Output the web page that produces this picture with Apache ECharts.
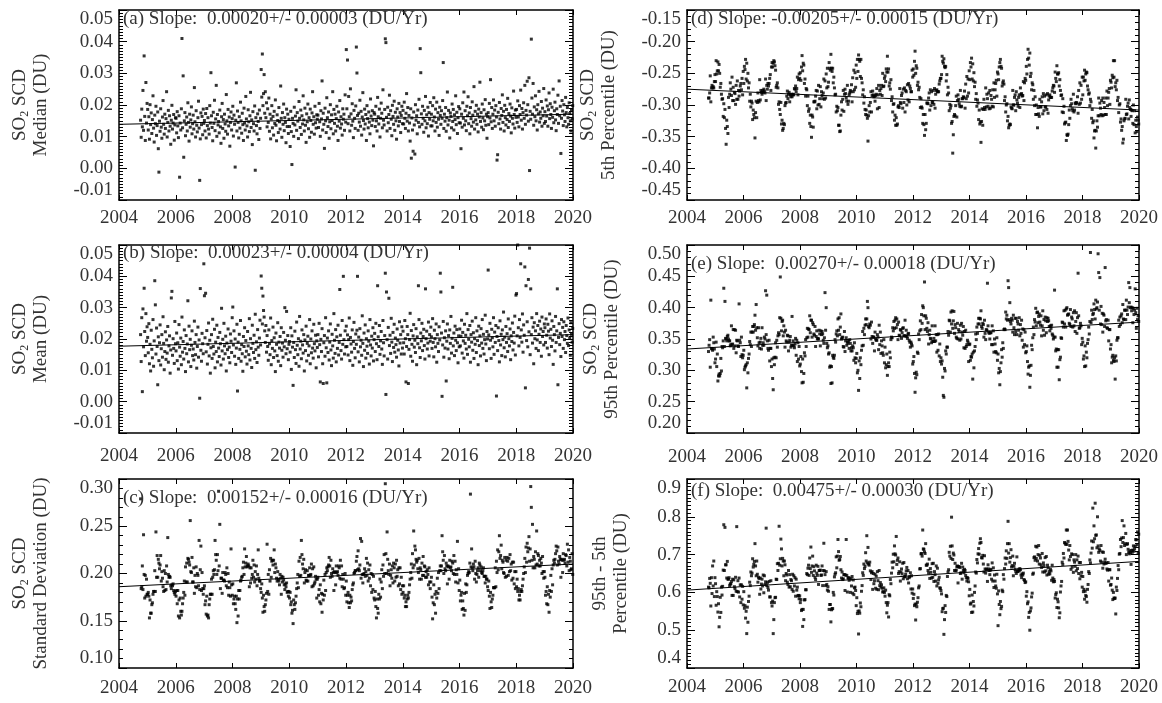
<!DOCTYPE html>
<html>
<head>
<meta charset="utf-8">
<script src="https://cdn.jsdelivr.net/npm/echarts@6/dist/echarts.min.js"></script>
<style>
  html, body { margin: 0; padding: 0; background: #fff; }
  #chart { width: 1162px; height: 703px; }
</style>
</head>
<body>
<div id="chart"></div>
<script>
// one value per slot, 48 slots a year; row 0 = 2004 (Oct-Dec only), rows 1..15 = 2005..2019
// median / mean in 0.0001 DU, the other four in 0.001 DU
const medianVals = [
  [152, 98, 187, 131, 246, 120, 355, 164, 88, 271, 143, 205],
  [186, 121, 163, 92, 201, 138, 175, 110, 154, 229, 127, 83, 168, 141, 196, 104, 135, 178, 62, -12, 149, 117, 188, 130, 95, 162, 214, 139, 108, 171, 126, 157, 242, 99, 145, 183, 118, 166, 133, 76, 152, 199, 124, 143, 170, 89, 137, 160],
  [158, 112, 179, 134, 97, 166, -28, 143, 121, 188, 410, 128, 292, 35, 150, 176, 103, 139, 162, 118, 207, 145, 86, 171, 130, 153, 194, 109, 141, 168, 124, 255, 147, 99, 182, 136, 115, 160, 212, 127, -38, 93, 175, 138, 164, 106, 187, 142],
  [151, 118, 173, 96, 189, 135, 160, 124, 108, 198, 143, 302, 166, 129, 87, 177, 142, 215, 119, 156, 262, 101, 170, 137, 148, 112, 184, 131, 79, 163, 205, 126, 154, 95, 171, 140, 117, 233, 150, 108, 186, 134, 162, 70, 145, 178, 121, 157],
  [196, 102, 168, 139, 4, 152, 270, 118, 181, 145, 96, 163, 127, 209, 150, 111, 174, 138, 88, 190, 143, 121, 227, 156, 134, 99, 185, 147, 116, 166, 240, 129, 153, 75, 179, 141, 118, 197, -6, 160, 135, 109, 172, 148, 91, 184, 126, 158],
  [312, 225, 361, 198, 236, 296, 174, 242, 160, 207, 131, 188, 145, 222, 117, 171, 93, 156, 198, 128, 164, 105, 180, 142, 216, 136, 87, 169, 151, 113, 192, 147, 124, 260, 158, 98, 176, 139, 203, 119, 160, 145, 81, 187, 132, 171, 110, 155],
  [132, 69, 180, 116, 12, 158, 142, 101, 193, 137, 165, 248, 120, 176, 149, 94, 211, 158, 129, 184, 107, 166, 140, 229, 153, 118, 190, 136, 82, 172, 147, 203, 125, 160, 98, 187, 151, 114, 175, 242, 139, 163, 108, 196, 144, 127, 169, 155],
  [168, 129, 205, 147, 101, 182, 156, 276, 121, 174, 139, 63, 190, 150, 113, 223, 160, 132, 178, 95, 147, 201, 125, 169, 151, 242, 109, 186, 142, 171, 118, 157, 196, 133, 88, 178, 149, 214, 127, 163, 140, 105, 188, 155, 171, 120, 232, 146],
  [375, 188, 342, 141, 227, 163, 118, 251, 172, 136, 204, 149, 97, 183, 158, 126, 197, 383, 301, 167, 120, 174, 146, 215, 133, 180, 105, 162, 239, 151, 124, 187, 140, 170, 88, 198, 157, 128, 178, 146, 109, 219, 165, 135, 182, 152, 71, 176],
  [171, 132, 196, 150, 118, 224, 163, 140, 187, 99, 158, 206, 174, 128, 248, 152, 137, 186, 409, 397, 161, 118, 193, 144, 170, 231, 126, 182, 155, 103, 199, 164, 139, 212, 120, 177, 150, 92, 188, 162, 134, 205, 148, 176, 113, 167, 196, 141],
  [183, 140, 209, 158, 126, 174, 236, 149, 192, 118, 167, 143, 86, 188, 32, 159, 121, 54, 178, 137, 45, 201, 152, 166, 109, 184, 145, 218, 131, 378, 302, 172, 139, 196, 158, 114, 183, 150, 227, 128, 169, 141, 193, 102, 176, 155, 208, 134],
  [171, 134, 198, 150, 223, 162, 118, 187, 145, 209, 130, 176, 155, 104, 193, 167, 139, 182, 158, 214, 334, 126, 171, 149, 192, 117, 160, 241, 137, 183, 152, 96, 175, 164, 128, 203, 148, 186, 121, 169, 154, 229, 138, 177, 110, 160, 195, 144],
  [188, 143, 62, 171, 130, 207, 158, 241, 137, 182, 150, 119, 196, 166, 226, 141, 175, 109, 192, 157, 133, 210, 168, 146, 258, 124, 180, 153, 199, 139, 171, 115, 187, 162, 272, 148, 176, 130, 203, 159, 122, 185, 150, 217, 136, 171, 95, 163],
  [176, 138, 205, 159, 280, 147, 192, 126, 171, 216, 150, 184, 133, 198, 162, 26, 43, 177, 141, 208, 156, 124, 189, 167, 232, 145, 180, 118, 199, 160, 137, 186, 154, 221, 129, 173, 148, 203, 165, 112, 191, 158, 140, 244, 170, 127, 184, 161],
  [186, 145, 213, 162, 131, 198, 170, 247, 152, 189, 124, 176, 207, 158, 262, 139, 183, 168, 275, 201, 149, 286, -7, 180, 155, 408, 222, 171, 268, 136, 194, 163, 229, 150, 185, 121, 201, 172, 243, 146, 178, 158, 211, 133, 190, 166, 252, 142],
  [179, 148, 216, 165, 197, 133, 185, 238, 157, 204, 170, 126, 193, 161, 250, 144, 182, 209, 153, 119, 188, 170, 231, 142, 276, 166, 196, 47, 158, 214, 181, 135, 201, 169, 148, 224, 176, 131, 192, 160, 139, 207, 173, 150, 118, 184, 156, 198]
];

const meanVals = [
  [214, 128, 268, 32, 296, 175, 362, 224, 147, 281, 193, 239],
  [205, 156, 249, 121, 183, 98, 228, 167, 140, 262, 113, 194, 386, 309, 152, 235, 176, 54, 207, 131, 188, 245, 117, 169, 214, 142, 271, 186, 102, 160, 223, 135, 197, 155, 240, 126, 178, 210, 91, 165, 331, 352, 148, 201, 170, 122, 256, 185],
  [162, 219, 131, 188, 104, 246, 174, 145, 203, 118, 270, 158, 192, 136, 229, 170, 96, 211, 153, 184, 322, 127, 241, 166, 199, 112, 180, 226, 147, 168, 133, 257, 189, 150, 214, 107, 176, 238, 142, 197, 11, 361, 164, 129, 218, 185, 153, 440],
  [338, 204, 346, 159, 227, 120, 183, 251, 146, 196, 91, 172, 214, 138, 263, 176, 152, 231, 108, 190, 160, 244, 127, 205, 171, 144, 221, 185, 117, 298, 162, 199, 136, 250, 178, 153, 209, 98, 187, 166, 232, 141, 174, 124, 216, 193, 157, 268],
  [302, 181, 226, 145, 200, 119, 171, 247, 34, 190, 138, 215, 167, 259, 129, 182, 153, 97, 208, 176, 236, 143, 195, 161, 120, 224, 178, 150, 265, 133, 201, 170, 109, 244, 186, 157, 212, 138, 279, 166, 191, 125, 230, 174, 148, 203, 260, 181],
  [401, 362, 248, 337, 291, 270, 226, 189, 243, 158, 211, 176, 132, 229, 185, 150, 267, 118, 195, 170, 238, 141, 204, 162, 96, 219, 183, 147, 252, 129, 190, 171, 208, 115, 236, 164, 187, 142, 221, 175, 300, 196, 153, 288, 169, 211, 134, 183],
  [192, 158, 236, 103, 210, 174, 52, 189, 141, 225, 166, 122, 254, 180, 150, 201, 113, 272, 168, 193, 137, 229, 181, 155, 214, 98, 197, 163, 241, 130, 186, 209, 148, 178, 262, 121, 200, 156, 226, 171, 139, 247, 185, 162, 212, 108, 194, 173],
  [214, 143, 250, 182, 63, 199, 160, 233, 121, 58, 188, 211, 145, 268, 172, 60, 203, 157, 226, 133, 190, 248, 165, 115, 215, 178, 139, 281, 196, 154, 230, 127, 207, 170, 244, 149, 189, 358, 212, 163, 136, 259, 183, 400, 198, 152, 226, 175],
  [241, 176, 213, 149, 198, 267, 131, 205, 184, 158, 229, 116, 192, 253, 170, 140, 216, 183, 228, 400, 159, 206, 127, 233, 175, 196, 148, 274, 186, 112, 219, 164, 245, 139, 201, 177, 154, 226, 193, 120, 262, 181, 146, 209, 171, 236, 130, 198],
  [218, 160, 250, 185, 134, 370, 207, 176, 243, 151, 194, 224, 168, 119, 259, 188, 146, 211, 410, 23, 350, 198, 136, 237, 330, 179, 212, 154, 266, 190, 128, 221, 173, 247, 158, 203, 182, 142, 232, 196, 165, 114, 255, 187, 214, 152, 239, 171],
  [225, 188, 152, 259, 201, 63, 176, 240, 214, 58, 167, 198, 282, 145, 227, 183, 129, 210, 246, 174, 196, 157, 233, 118, 207, 185, 370, 262, 172, 141, 219, 194, 250, 163, 208, 231, 179, 136, 360, 201, 225, 168, 187, 254, 146, 214, 193, 238],
  [207, 170, 265, 189, 143, 228, 201, 175, 248, 126, 214, 186, 160, 239, 197, 410, 350, 219, 17, 181, 256, 142, 204, 171, 226, 66, 193, 248, 168, 211, 137, 229, 186, 272, 155, 202, 365, 178, 219, 147, 241, 196, 163, 230, 188, 124, 210, 175],
  [232, 178, 209, 260, 155, 221, 194, 139, 247, 186, 212, 168, 281, 151, 230, 199, 175, 243, 126, 214, 190, 257, 164, 220, 138, 201, 183, 268, 157, 226, 195, 118, 241, 179, 210, 146, 233, 187, 262, 170, 215, 152, 198, 276, 184, 131, 224, 200],
  [420, 213, 169, 250, 196, 138, 231, 204, 175, 268, 151, 222, 189, 243, 18, 208, 163, 236, 195, 127, 258, 181, 215, 147, 229, 198, 286, 172, 206, 143, 240, 189, 217, 160, 264, 201, 178, 232, 134, 210, 192, 251, 165, 221, 187, 273, 149, 340],
  [345, 210, 500, 236, 178, 262, 205, 440, 229, 190, 280, 158, 245, 212, 430, 44, 370, 195, 255, 175, 390, 223, 490, 150, 360, 214, 268, 187, 238, 121, 252, 201, 226, 170, 281, 197, 243, 163, 215, 257, 189, 232, 145, 270, 208, 224, 181, 248],
  [236, 189, 264, 212, 171, 247, 225, 150, 280, 203, 231, 176, 258, 196, 119, 240, 214, 162, 272, 189, 226, 360, 54, 205, 249, 182, 218, 144, 262, 208, 237, 170, 255, 198, 224, 157, 243, 211, 186, 267, 179, 229, 203, 148, 252, 215, 190, 234]
];

const stdVals = [
  [279, 184, 186, 208, 183, 241, 199, 174, 198, 176, 194, 178],
  [178, 180, 176, 153, 172, 158, 158, 167, 169, 178, 181, 181, 203, 181, 244, 196, 219, 196, 215, 211, 205, 209, 219, 192, 202, 195, 186, 181, 203, 182, 200, 183, 208, 191, 238, 199, 196, 197, 196, 187, 184, 188, 187, 189, 182, 180, 178, 181],
  [176, 182, 168, 182, 155, 172, 153, 174, 160, 156, 160, 168, 174, 180, 192, 177, 207, 191, 211, 191, 216, 215, 212, 209, 256, 202, 201, 217, 191, 191, 206, 179, 198, 186, 207, 185, 200, 198, 187, 235, 183, 204, 229, 182, 201, 184, 178, 184],
  [187, 167, 171, 157, 176, 155, 156, 153, 167, 173, 178, 178, 194, 178, 196, 203, 199, 204, 235, 220, 214, 199, 220, 203, 287, 208, 252, 184, 195, 195, 179, 201, 193, 193, 192, 201, 199, 187, 206, 185, 200, 177, 191, 185, 176, 226, 188, 177],
  [189, 168, 173, 176, 168, 162, 176, 148, 173, 155, 182, 173, 182, 192, 193, 196, 197, 206, 212, 199, 226, 207, 211, 218, 207, 208, 210, 208, 186, 206, 190, 206, 195, 199, 214, 196, 209, 191, 202, 194, 208, 187, 199, 225, 195, 192, 192, 184],
  [180, 189, 174, 159, 177, 165, 160, 167, 172, 179, 231, 181, 199, 178, 204, 192, 216, 196, 213, 214, 209, 214, 225, 201, 210, 206, 195, 192, 202, 194, 192, 188, 199, 195, 178, 197, 191, 196, 193, 188, 183, 189, 186, 190, 180, 181, 176, 181],
  [174, 180, 167, 170, 158, 161, 147, 172, 167, 162, 169, 176, 184, 190, 199, 185, 213, 197, 217, 198, 235, 220, 210, 205, 215, 190, 201, 204, 193, 192, 203, 192, 198, 198, 206, 198, 199, 210, 186, 205, 187, 207, 189, 191, 197, 194, 174, 194],
  [196, 177, 183, 170, 188, 168, 179, 159, 178, 172, 193, 177, 199, 182, 201, 206, 203, 207, 209, 217, 208, 196, 214, 200, 197, 205, 201, 182, 202, 201, 188, 208, 201, 202, 198, 208, 206, 195, 214, 194, 208, 186, 199, 194, 184, 185, 200, 177],
  [192, 170, 177, 180, 169, 164, 177, 169, 175, 171, 183, 188, 190, 200, 201, 203, 203, 213, 218, 204, 224, 205, 203, 209, 237, 195, 234, 199, 190, 199, 200, 205, 197, 202, 216, 198, 211, 192, 204, 195, 209, 187, 200, 180, 199, 183, 197, 174],
  [172, 181, 165, 153, 173, 163, 158, 178, 173, 194, 175, 191, 204, 184, 209, 197, 220, 200, 295, 221, 200, 244, 215, 203, 199, 210, 187, 198, 204, 195, 208, 190, 211, 206, 192, 210, 196, 214, 197, 204, 187, 206, 189, 206, 183, 196, 178, 187],
  [180, 187, 174, 177, 165, 170, 165, 173, 177, 174, 180, 188, 194, 201, 210, 195, 221, 206, 245, 209, 229, 225, 215, 212, 214, 205, 201, 216, 194, 206, 204, 194, 211, 198, 218, 198, 208, 207, 196, 202, 196, 204, 199, 188, 206, 191, 184, 191],
  [196, 175, 152, 169, 188, 167, 178, 158, 181, 174, 195, 179, 201, 184, 203, 208, 203, 208, 240, 223, 214, 200, 219, 205, 203, 211, 208, 189, 208, 207, 194, 214, 206, 207, 203, 213, 211, 200, 219, 199, 213, 191, 204, 199, 234, 190, 205, 182],
  [193, 171, 177, 180, 162, 171, 163, 156, 179, 161, 189, 180, 188, 198, 200, 202, 201, 211, 284, 207, 226, 206, 203, 210, 207, 194, 213, 200, 191, 199, 203, 206, 196, 211, 209, 203, 207, 201, 200, 203, 206, 197, 197, 190, 197, 194, 194, 186],
  [182, 192, 176, 163, 180, 170, 164, 173, 177, 185, 185, 185, 206, 186, 213, 201, 225, 204, 223, 240, 216, 219, 230, 205, 214, 212, 201, 200, 217, 196, 214, 197, 217, 213, 198, 216, 202, 220, 203, 210, 193, 212, 195, 212, 189, 202, 184, 202],
  [186, 194, 181, 184, 172, 177, 172, 181, 183, 181, 187, 194, 200, 207, 216, 201, 228, 212, 232, 223, 227, 239, 213, 226, 292, 270, 214, 252, 206, 218, 215, 206, 223, 209, 245, 210, 221, 219, 208, 214, 208, 216, 211, 200, 218, 202, 195, 202],
  [196, 177, 181, 168, 186, 167, 178, 159, 182, 175, 198, 181, 205, 188, 209, 214, 211, 215, 221, 229, 224, 209, 228, 213, 210, 218, 215, 196, 215, 214, 201, 221, 214, 215, 211, 220, 219, 208, 231, 212, 225, 203, 217, 213, 204, 205, 221, 199]
];

const p5Vals = [
  [-289, -289, -281, -254, -295, -273, -269, -273, -271, -273, -263, -252],
  [-263, -230, -251, -246, -232, -246, -236, -250, -272, -266, -283, -291, -290, -318, -298, -320, -307, -337, -362, -324, -334, -345, -288, -304, -283, -265, -275, -285, -256, -293, -272, -293, -280, -282, -299, -269, -291, -262, -291, -277, -286, -278, -270, -266, -276, -258, -284, -247],
  [-266, -239, -244, -228, -259, -234, -262, -250, -273, -265, -294, -283, -303, -294, -297, -323, -308, -315, -320, -352, -312, -294, -320, -296, -281, -293, -295, -260, -292, -277, -280, -283, -277, -280, -275, -278, -281, -259, -293, -269, -275, -266, -270, -266, -258, -252, -277, -240],
  [-233, -240, -234, -230, -232, -238, -245, -272, -269, -265, -273, -299, -295, -307, -315, -296, -330, -324, -340, -337, -329, -331, -301, -297, -296, -286, -278, -290, -283, -280, -295, -284, -287, -283, -287, -284, -283, -284, -274, -275, -270, -279, -274, -256, -284, -260, -251, -258],
  [-249, -261, -240, -222, -246, -234, -237, -266, -259, -286, -274, -276, -301, -286, -310, -306, -329, -316, -334, -351, -316, -319, -335, -295, -295, -294, -286, -277, -306, -278, -300, -269, -299, -290, -271, -303, -279, -285, -290, -281, -259, -291, -262, -289, -251, -273, -242, -271],
  [-264, -233, -242, -245, -220, -242, -247, -242, -265, -256, -273, -284, -283, -311, -302, -309, -304, -332, -332, -342, -341, -316, -295, -308, -291, -277, -310, -283, -275, -282, -289, -294, -269, -299, -294, -284, -281, -277, -279, -268, -295, -257, -279, -245, -276, -249, -272, -237],
  [-258, -228, -247, -221, -228, -231, -255, -228, -258, -265, -284, -276, -297, -287, -307, -315, -308, -316, -321, -357, -317, -301, -311, -296, -279, -311, -285, -278, -284, -287, -286, -294, -285, -283, -274, -306, -284, -269, -304, -277, -283, -274, -269, -285, -250, -271, -270, -258],
  [-254, -263, -243, -248, -223, -248, -243, -270, -265, -275, -260, -293, -287, -311, -299, -298, -324, -316, -332, -320, -332, -330, -303, -301, -304, -274, -296, -298, -285, -281, -305, -275, -296, -273, -311, -277, -279, -300, -268, -292, -266, -295, -270, -274, -279, -279, -245, -256],
  [-243, -253, -231, -215, -250, -238, -242, -269, -264, -276, -272, -288, -304, -290, -303, -305, -329, -315, -331, -348, -315, -339, -329, -297, -297, -298, -289, -281, -308, -276, -301, -279, -296, -296, -277, -299, -274, -305, -283, -277, -276, -279, -279, -279, -267, -262, -258, -258],
  [-252, -223, -231, -234, -227, -239, -241, -239, -262, -252, -284, -272, -281, -309, -299, -305, -301, -329, -326, -376, -347, -318, -315, -317, -301, -286, -319, -293, -284, -291, -298, -302, -277, -303, -302, -290, -290, -287, -288, -278, -305, -267, -290, -255, -286, -259, -281, -246],
  [-260, -233, -240, -226, -259, -235, -262, -249, -271, -264, -291, -282, -302, -292, -297, -323, -308, -330, -327, -359, -326, -306, -332, -307, -291, -304, -307, -273, -303, -283, -290, -302, -281, -306, -277, -305, -285, -291, -302, -276, -303, -265, -288, -276, -266, -261, -286, -248],
  [-251, -260, -240, -233, -228, -239, -242, -270, -265, -262, -267, -293, -287, -311, -300, -298, -325, -318, -336, -332, -330, -331, -303, -305, -306, -277, -300, -300, -288, -284, -309, -279, -292, -297, -302, -288, -284, -304, -273, -283, -282, -286, -285, -263, -293, -265, -258, -261],
  [-239, -251, -228, -212, -226, -237, -218, -255, -250, -276, -265, -268, -291, -277, -301, -287, -315, -300, -315, -336, -304, -314, -318, -291, -303, -303, -295, -287, -314, -282, -309, -286, -303, -303, -284, -307, -282, -313, -292, -286, -284, -288, -288, -288, -278, -273, -269, -270],
  [-280, -248, -258, -263, -238, -251, -251, -249, -270, -260, -277, -285, -284, -311, -290, -312, -302, -330, -328, -327, -356, -347, -348, -346, -331, -308, -321, -301, -291, -298, -306, -309, -283, -311, -308, -297, -298, -296, -297, -287, -313, -277, -299, -265, -297, -269, -291, -256],
  [-284, -256, -262, -245, -261, -251, -248, -249, -270, -276, -283, -281, -301, -291, -295, -321, -307, -328, -325, -352, -341, -340, -368, -341, -325, -335, -317, -289, -317, -297, -305, -315, -293, -317, -289, -316, -296, -304, -315, -289, -315, -278, -301, -289, -280, -274, -299, -261],
  [-264, -273, -253, -257, -230, -256, -230, -271, -265, -276, -261, -293, -288, -312, -300, -298, -327, -322, -340, -334, -360, -354, -325, -322, -321, -291, -315, -314, -302, -297, -322, -292, -304, -307, -318, -308, -309, -329, -300, -331, -309, -344, -324, -334, -342, -319, -324, -330]
];

const p95Vals = [
  [330, 340, 349, 305, 412, 335, 334, 332, 353, 344, 334, 312],
  [318, 345, 306, 326, 283, 291, 294, 291, 295, 319, 299, 338, 336, 347, 431, 338, 410, 351, 350, 347, 354, 356, 350, 347, 347, 339, 341, 371, 341, 342, 365, 335, 365, 339, 364, 328, 348, 347, 339, 338, 406, 348, 344, 322, 353, 325, 320, 324],
  [332, 301, 305, 307, 309, 272, 312, 296, 319, 326, 346, 341, 361, 338, 361, 370, 361, 370, 373, 388, 364, 405, 368, 352, 339, 368, 344, 335, 345, 351, 334, 368, 340, 344, 340, 353, 350, 427, 357, 420, 347, 335, 332, 348, 315, 335, 335, 306],
  [318, 287, 269, 320, 309, 321, 344, 320, 348, 337, 355, 360, 357, 384, 449, 383, 363, 378, 380, 355, 371, 361, 337, 364, 347, 345, 356, 355, 331, 345, 348, 354, 337, 340, 386, 340, 347, 339, 336, 342, 351, 324, 348, 314, 344, 318, 338, 307],
  [310, 322, 298, 280, 318, 281, 295, 328, 323, 349, 338, 352, 367, 353, 366, 365, 387, 360, 380, 380, 353, 376, 373, 358, 356, 370, 338, 354, 363, 350, 351, 350, 364, 358, 339, 363, 357, 362, 358, 348, 343, 352, 424, 364, 400, 343, 336, 339],
  [326, 328, 305, 307, 279, 306, 280, 324, 321, 319, 324, 349, 345, 358, 363, 355, 382, 364, 384, 357, 369, 390, 350, 352, 353, 338, 337, 362, 330, 347, 352, 340, 345, 343, 347, 335, 349, 343, 331, 336, 331, 339, 336, 316, 344, 320, 312, 319],
  [327, 296, 300, 268, 315, 287, 320, 309, 332, 339, 362, 340, 367, 357, 372, 382, 373, 382, 410, 400, 370, 368, 374, 372, 350, 377, 354, 343, 353, 353, 331, 361, 350, 348, 348, 357, 353, 333, 372, 341, 361, 327, 347, 339, 328, 324, 349, 312],
  [337, 304, 309, 326, 292, 306, 312, 306, 329, 320, 349, 353, 352, 368, 363, 378, 367, 380, 384, 368, 382, 373, 349, 377, 356, 355, 365, 364, 351, 360, 367, 368, 355, 355, 380, 355, 364, 354, 351, 358, 359, 348, 345, 337, 345, 342, 339, 310],
  [314, 322, 295, 265, 288, 297, 293, 329, 327, 358, 349, 363, 379, 365, 389, 375, 403, 400, 387, 441, 365, 387, 383, 367, 362, 376, 342, 357, 364, 351, 350, 344, 371, 346, 346, 351, 346, 371, 347, 357, 329, 357, 332, 358, 323, 342, 314, 320],
  [310, 315, 289, 260, 257, 303, 299, 331, 326, 337, 337, 362, 356, 380, 379, 361, 393, 374, 395, 367, 379, 394, 359, 373, 368, 353, 351, 375, 350, 365, 362, 348, 372, 350, 375, 361, 356, 370, 336, 362, 335, 364, 338, 341, 348, 345, 314, 341],
  [342, 316, 322, 321, 326, 286, 329, 304, 331, 338, 358, 349, 369, 359, 374, 383, 374, 383, 382, 395, 370, 367, 375, 373, 353, 380, 359, 349, 365, 364, 439, 371, 361, 359, 350, 360, 360, 341, 371, 341, 363, 329, 350, 342, 330, 328, 352, 316],
  [326, 296, 303, 277, 298, 312, 333, 321, 344, 335, 365, 366, 365, 393, 382, 388, 380, 443, 432, 381, 408, 378, 374, 383, 380, 361, 388, 368, 357, 383, 362, 383, 357, 378, 374, 364, 384, 355, 373, 359, 380, 348, 366, 337, 365, 341, 361, 328],
  [330, 339, 314, 294, 305, 307, 273, 292, 308, 340, 333, 352, 369, 357, 381, 377, 399, 371, 392, 393, 376, 386, 390, 377, 372, 387, 355, 371, 395, 364, 381, 356, 385, 379, 360, 384, 378, 383, 379, 370, 363, 371, 367, 372, 358, 356, 350, 353],
  [428, 353, 331, 334, 305, 333, 305, 333, 285, 317, 321, 352, 351, 377, 376, 369, 395, 374, 396, 369, 398, 400, 388, 389, 390, 375, 373, 397, 370, 385, 382, 369, 392, 371, 395, 362, 378, 392, 359, 384, 455, 387, 367, 368, 375, 371, 341, 351],
  [345, 318, 323, 306, 339, 307, 329, 320, 343, 349, 369, 358, 378, 488, 376, 396, 381, 389, 391, 406, 397, 382, 412, 398, 400, 409, 486, 456, 396, 448, 374, 402, 373, 391, 361, 390, 388, 370, 464, 379, 381, 368, 367, 380, 347, 365, 365, 334],
  [341, 312, 321, 324, 316, 314, 320, 286, 323, 315, 348, 352, 352, 380, 370, 385, 373, 387, 390, 376, 405, 382, 381, 396, 396, 381, 412, 396, 389, 401, 440, 408, 432, 400, 401, 395, 400, 376, 399, 389, 396, 430, 392, 367, 399, 381, 387, 378]
];

const rangeVals = [
  [614, 612, 637, 624, 564, 639, 597, 670, 617, 683, 589, 639],
  [623, 566, 602, 589, 548, 570, 509, 534, 587, 547, 614, 593, 616, 659, 779, 658, 772, 673, 673, 638, 682, 635, 635, 639, 618, 622, 623, 629, 592, 635, 592, 633, 615, 610, 640, 603, 774, 602, 631, 601, 638, 588, 620, 573, 620, 582, 616, 567],
  [602, 558, 565, 532, 550, 491, 561, 521, 576, 590, 627, 618, 654, 644, 651, 689, 667, 674, 682, 729, 670, 644, 683, 648, 627, 640, 637, 595, 638, 609, 622, 635, 617, 646, 599, 644, 621, 628, 770, 618, 626, 613, 606, 629, 588, 588, 631, 573],
  [564, 577, 491, 528, 573, 586, 587, 635, 634, 676, 658, 677, 775, 672, 689, 741, 715, 670, 690, 683, 644, 683, 673, 631, 650, 646, 627, 621, 658, 614, 647, 615, 634, 631, 608, 648, 603, 644, 617, 639, 590, 635, 606, 614, 591, 592, 583, 591],
  [573, 581, 552, 555, 510, 555, 528, 580, 581, 607, 607, 650, 647, 664, 672, 645, 691, 663, 720, 653, 670, 696, 645, 668, 657, 640, 634, 672, 651, 645, 669, 621, 658, 658, 659, 645, 646, 670, 618, 658, 730, 657, 647, 618, 655, 621, 606, 615],
  [603, 555, 568, 568, 522, 554, 557, 557, 600, 593, 641, 648, 652, 694, 665, 696, 740, 708, 685, 687, 695, 660, 638, 654, 634, 636, 647, 647, 605, 646, 740, 645, 601, 639, 638, 632, 638, 600, 635, 617, 642, 598, 633, 594, 612, 614, 605, 565],
  [586, 544, 550, 490, 551, 545, 572, 562, 603, 618, 652, 645, 675, 663, 669, 705, 683, 750, 678, 719, 675, 672, 680, 657, 634, 652, 655, 608, 650, 623, 631, 648, 611, 643, 608, 655, 631, 607, 658, 618, 626, 614, 620, 611, 601, 602, 612, 600],
  [590, 606, 573, 546, 566, 573, 535, 594, 591, 634, 623, 651, 680, 665, 701, 681, 723, 702, 699, 748, 674, 685, 691, 650, 655, 681, 630, 654, 662, 649, 677, 636, 679, 641, 642, 648, 657, 666, 636, 658, 625, 639, 642, 652, 609, 644, 598, 609],
  [584, 595, 565, 569, 527, 569, 562, 574, 586, 612, 617, 662, 663, 702, 703, 696, 765, 715, 714, 707, 703, 729, 672, 672, 675, 658, 651, 688, 637, 663, 653, 638, 676, 640, 677, 629, 655, 647, 630, 670, 617, 664, 624, 633, 640, 612, 611, 605],
  [596, 549, 557, 558, 489, 528, 565, 547, 592, 589, 642, 654, 660, 706, 696, 722, 690, 799, 723, 687, 704, 699, 658, 677, 657, 659, 668, 670, 625, 668, 668, 666, 650, 652, 677, 635, 667, 658, 652, 661, 658, 645, 639, 630, 639, 637, 628, 591],
  [608, 569, 572, 547, 593, 548, 576, 564, 600, 617, 654, 651, 687, 678, 702, 716, 701, 730, 742, 732, 692, 691, 698, 675, 654, 697, 662, 651, 660, 662, 629, 673, 662, 658, 647, 659, 661, 635, 678, 630, 665, 613, 646, 630, 617, 611, 648, 596],
  [512, 604, 568, 541, 576, 557, 563, 606, 602, 647, 635, 663, 691, 675, 710, 690, 729, 788, 704, 729, 680, 692, 713, 667, 671, 696, 644, 669, 677, 661, 656, 650, 694, 655, 656, 661, 657, 663, 660, 646, 639, 649, 646, 651, 634, 632, 626, 628],
  [590, 602, 570, 575, 534, 547, 500, 551, 559, 588, 598, 648, 651, 692, 694, 685, 722, 690, 720, 683, 700, 724, 675, 698, 691, 673, 666, 703, 654, 678, 671, 654, 692, 657, 695, 646, 672, 665, 648, 655, 649, 661, 657, 632, 672, 638, 628, 634],
  [629, 585, 594, 599, 560, 582, 575, 559, 533, 546, 601, 617, 629, 680, 674, 703, 691, 732, 730, 727, 765, 727, 765, 735, 712, 686, 724, 695, 661, 702, 667, 700, 653, 686, 680, 669, 700, 657, 686, 663, 696, 650, 679, 636, 679, 644, 653, 614],
  [642, 602, 608, 582, 603, 592, 589, 574, 608, 621, 655, 650, 686, 678, 704, 736, 717, 823, 734, 776, 742, 836, 751, 752, 718, 800, 723, 706, 715, 711, 683, 724, 680, 707, 664, 706, 675, 680, 688, 677, 678, 662, 659, 679, 630, 660, 660, 619],
  [621, 638, 606, 581, 600, 585, 584, 585, 543, 614, 605, 637, 671, 660, 701, 703, 740, 721, 744, 790, 732, 745, 776, 724, 729, 756, 700, 727, 729, 714, 706, 702, 710, 704, 674, 711, 706, 712, 723, 709, 716, 722, 740, 739, 726, 760, 703, 754]
];

// fitted linear trend, value at 2004.0 and at 2020.0 (same units as above)
const trendStart = [139, 177, 186, -275, 334, 606];
const trendEnd = [171, 214, 210, -308, 377, 682];

const titles = [
  '(a) Slope:  0.00020+/- 0.00003 (DU/Yr)',
  '(b) Slope:  0.00023+/- 0.00004 (DU/Yr)',
  '(c) Slope:  0.00152+/- 0.00016 (DU/Yr)',
  '(d) Slope: -0.00205+/- 0.00015 (DU/Yr)',
  '(e) Slope:  0.00270+/- 0.00018 (DU/Yr)',
  '(f) Slope:  0.00475+/- 0.00030 (DU/Yr)'
];
const yNames = [
  '{n|SO}{s|2}{n| SCD}\n{n|Median (DU)}',
  '{n|SO}{s|2}{n| SCD}\n{n|Mean (DU)}',
  '{n|SO}{s|2}{n| SCD}\n{n|Standard Deviation (DU)}',
  '{n|SO}{s|2}{n| SCD}\n{n|5th Percentile (DU)}',
  '{n|SO}{s|2}{n| SCD}\n{n|95th Percentile (DU)}',
  '{n|95th - 5th}\n{n|Percentile (DU)}'
];

const FONT = "'Liberation Serif', 'DejaVu Serif', serif";
const TXT = '#333';

// layout of the six panels
const panels = [
  { vals: medianVals, left: 119, top: 10,  width: 454, height: 190, min: -100, max: 500, step: 100, minor: 10, scale: 10000, digits: 2, nameGap: 67, xMargin: 9,  titleTop: 10 },
  { vals: meanVals,   left: 119, top: 245, width: 454, height: 188, min: -100, max: 500, step: 100, minor: 10, scale: 10000, digits: 2, nameGap: 67, xMargin: 14, titleTop: 244 },
  { vals: stdVals,    left: 119, top: 479, width: 454, height: 189, min: 100,  max: 300, step: 50,  minor: 5,  scale: 1000,  digits: 2, nameGap: 67, xMargin: 11, titleTop: 489 },
  { vals: p5Vals,     left: 687, top: 10,  width: 452, height: 190, min: -450, max: -150, step: 50, minor: 5,  scale: 1000,  digits: 2, nameGap: 67, xMargin: 9,  titleTop: 10 },
  { vals: p95Vals,    left: 687, top: 245, width: 452, height: 188, min: 200,  max: 500, step: 50,  minor: 5,  scale: 1000,  digits: 2, nameGap: 64, xMargin: 15, titleTop: 255 },
  { vals: rangeVals,  left: 687, top: 479, width: 452, height: 189, min: 400,  max: 900, step: 100, minor: 10, scale: 1000,  digits: 1, nameGap: 55, xMargin: 10, titleTop: 482 }
];

function toPoints(rows) {
  const pts = [];
  rows.forEach((row, r) => {
    const yearStart = r === 0 ? 2004.75 : 2004 + r;
    row.forEach((v, k) => pts.push([yearStart + (k + 0.5) / 48, v]));
  });
  return pts;
}

const option = {
  animation: false,
  backgroundColor: '#fff',
  title: [], grid: [], xAxis: [], yAxis: [], series: []
};

panels.forEach((p, i) => {
  option.grid.push({ left: p.left, top: p.top, width: p.width, height: p.height, outerBoundsMode: 'none' });
  option.title.push({
    text: titles[i], left: p.left + 4, top: p.titleTop, padding: 0,
    textStyle: { fontFamily: FONT, fontSize: 19, fontWeight: 'normal', color: TXT }
  });

  const xBase = {
    type: 'value', gridIndex: i, min: 2004, max: 2020, interval: 2,
    splitLine: { show: false },
    axisLine: { show: true, onZero: false, lineStyle: { color: '#000', width: 1.5 } },
    axisTick: { show: true, inside: true, length: 5, lineStyle: { color: '#000', width: 1 } }
  };
  option.xAxis.push(Object.assign({}, xBase, {
    position: 'bottom',
    axisLabel: {
      margin: p.xMargin, fontFamily: FONT, fontSize: 19, color: TXT,
      showMinLabel: true, showMaxLabel: true, formatter: v => String(v)
    }
  }));
  option.xAxis.push(Object.assign({}, xBase, { position: 'top', axisLabel: { show: false } }));

  const yBase = {
    type: 'value', gridIndex: i, min: p.min, max: p.max, interval: p.step,
    splitLine: { show: false },
    axisLine: { show: true, onZero: false, lineStyle: { color: '#000', width: 1.5 } },
    axisTick: { show: true, inside: true, length: 8, lineStyle: { color: '#000', width: 1 } },
    minorTick: { show: true, splitNumber: p.minor, length: 4, lineStyle: { color: '#000', width: 1 } },
    minorSplitLine: { show: false }
  };
  option.yAxis.push(Object.assign({}, yBase, {
    position: 'left',
    name: yNames[i], nameLocation: 'middle', nameGap: p.nameGap,
    nameTextStyle: {
      fontFamily: FONT, fontSize: 19, color: TXT, lineHeight: 21,
      rich: {
        n: { fontFamily: FONT, fontSize: 19, color: TXT, lineHeight: 21 },
        s: { fontFamily: FONT, fontSize: 12, color: TXT, lineHeight: 10, verticalAlign: 'bottom' }
      }
    },
    axisLabel: {
      margin: 6, fontFamily: FONT, fontSize: 19, color: TXT,
      showMinLabel: true, showMaxLabel: true,
      verticalAlignMinLabel: 'bottom', verticalAlignMaxLabel: 'top',
      formatter: v => (v / p.scale).toFixed(p.digits)
    }
  }));
  option.yAxis.push(Object.assign({}, yBase, { position: 'right', axisLabel: { show: false } }));

  option.series.push({
    type: 'scatter', xAxisIndex: 2 * i, yAxisIndex: 2 * i,
    data: toPoints(p.vals), symbol: 'rect', symbolSize: 3,
    itemStyle: { color: '#000' }, silent: true
  });
  option.series.push({
    type: 'line', xAxisIndex: 2 * i, yAxisIndex: 2 * i,
    data: [[2004, trendStart[i]], [2020, trendEnd[i]]],
    showSymbol: false, silent: true,
    lineStyle: { color: '#000', width: 1 }
  });
});

const chart = echarts.init(document.getElementById('chart'));
chart.setOption(option);
</script>
</body>
</html>
